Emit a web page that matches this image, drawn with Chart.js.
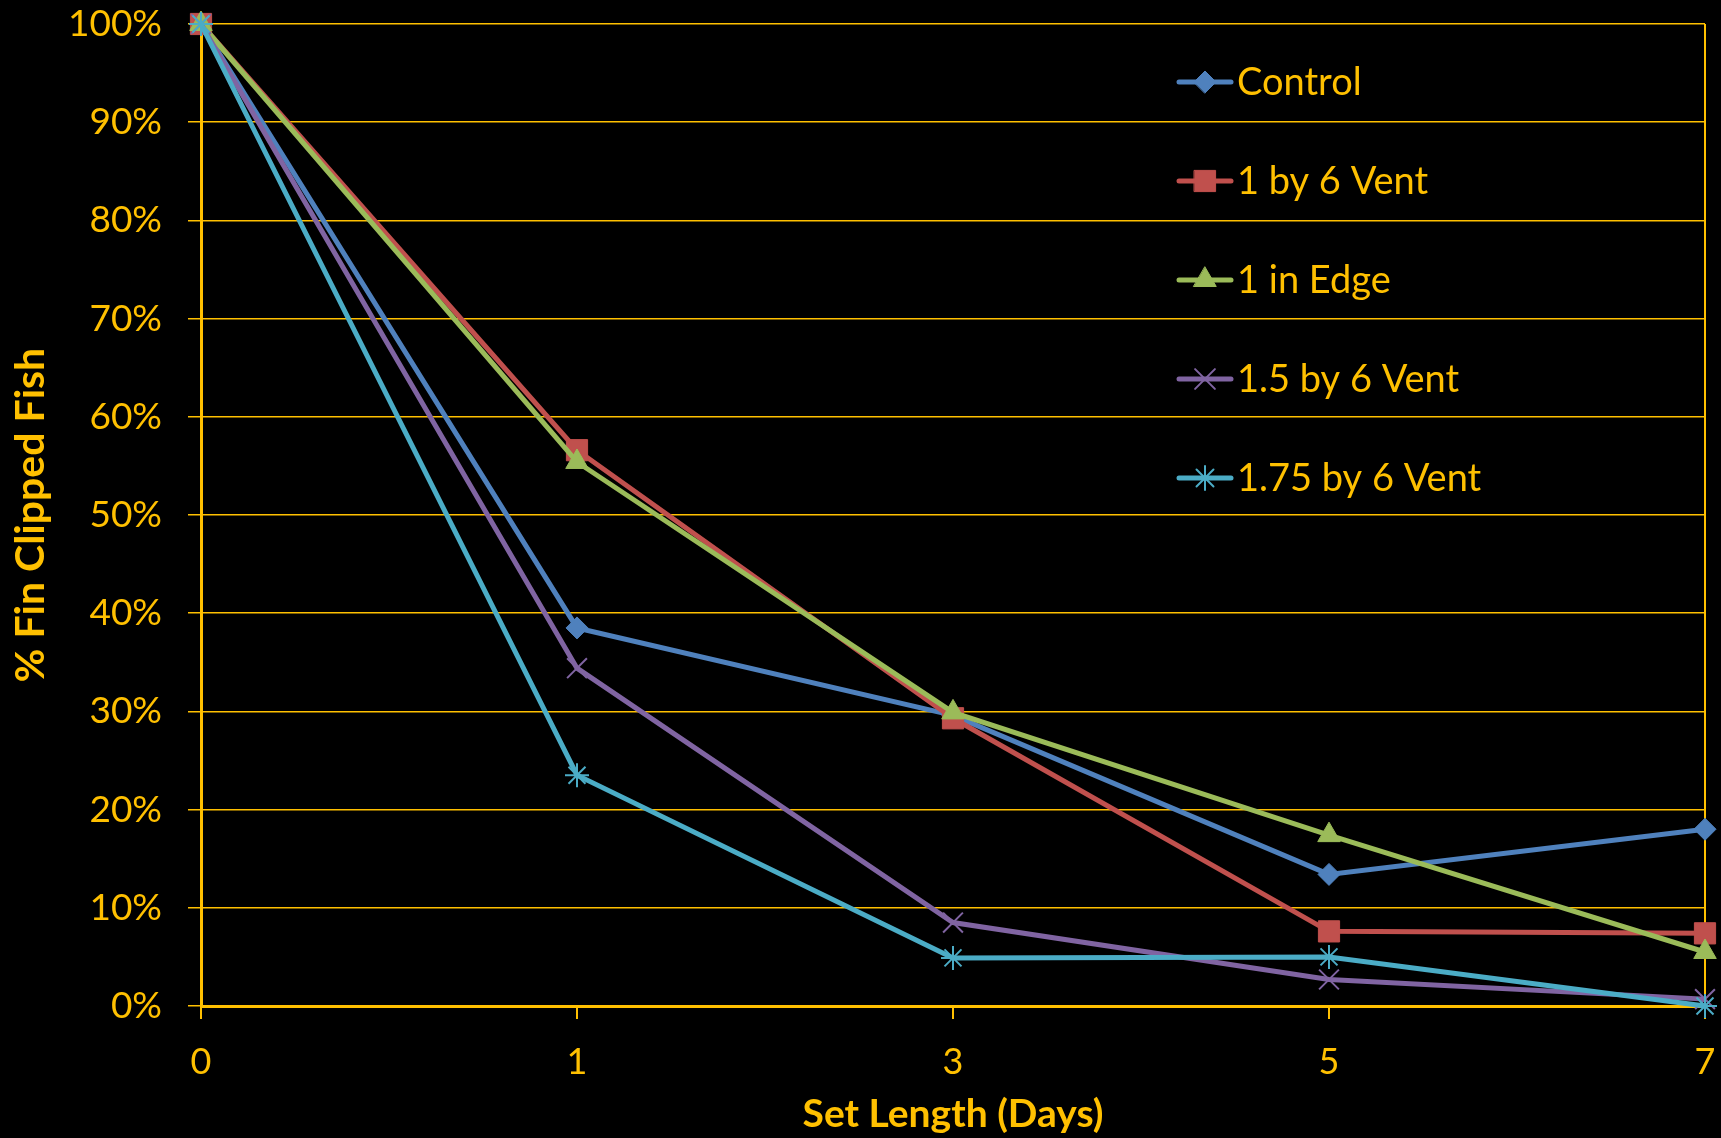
<!DOCTYPE html>
<html>
<head>
<meta charset="utf-8">
<script src="https://cdn.jsdelivr.net/npm/chart.js@4"></script>
<style>
  body { margin: 0; background: #000; }
  canvas { display: block; }
</style>
</head>
<body>
<canvas id="fins" width="1721" height="1138"></canvas>
<script>
const days = ["0", "1", "3", "5", "7"]
const control = [100, 38.5, 29.6, 13.4, 18.0]
const vent1by6 = [100, 56.6, 29.3, 7.6, 7.4]
const edge1in = [100, 55.4, 29.9, 17.4, 5.5]
const vent15by6 = [100, 34.4, 8.5, 2.7, 0.7]
const vent175by6 = [100, 23.5, 4.9, 5.0, 0.0]
const yTicks = [0, 10, 20, 30, 40, 50, 60, 70, 80, 90, 100]

const gold = "#FFC000"
const font = "Lato, 'Open Sans', sans-serif"

const series = [
  { label: "Control", data: control, color: "#4F81BD", style: "rectRot", r: 11 },
  { label: "1 by 6 Vent", data: vent1by6, color: "#C0504D", style: "rect", r: 15 },
  { label: "1 in Edge", data: edge1in, color: "#9BBB59", style: "triangle", r: 13 },
  { label: "1.5 by 6 Vent", data: vent15by6, color: "#8064A2", style: "crossRot", r: 14 },
  { label: "1.75 by 6 Vent", data: vent175by6, color: "#4BACC6", style: "star", r: 12 },
]

// legend drawn inside the plot, like the original
const insideLegend = {
  id: "insideLegend",
  afterDraw(chart) {
    const ctx = chart.ctx
    ctx.save()
    series.forEach((s, i) => {
      const y = 82 + i * 99
      ctx.strokeStyle = s.color
      ctx.lineWidth = 5
      ctx.lineCap = "round"
      ctx.beginPath()
      ctx.moveTo(1179, y)
      ctx.lineTo(1231, y)
      ctx.stroke()
      const thin = s.style === "crossRot" || s.style === "star"
      ctx.fillStyle = s.color
      ctx.strokeStyle = s.color
      ctx.lineWidth = thin ? 2 : 1
      Chart.helpers.drawPoint(ctx, { pointStyle: s.style, radius: s.r, rotation: 0, borderWidth: thin ? 2 : 1 }, 1205, y)
      ctx.fillStyle = gold
      ctx.font = "38px " + font
      ctx.textBaseline = "middle"
      ctx.textAlign = "left"
      ctx.fillText(s.label, 1237, y + 1)
    })
    ctx.restore()
  }
}

new Chart(document.getElementById("fins"), {
  type: "line",
  data: {
    labels: days,
    datasets: series.map((s, i) => ({
      label: s.label,
      data: s.data,
      borderColor: s.color,
      backgroundColor: s.color,
      borderWidth: 5,
      pointStyle: s.style,
      pointRadius: s.r,
      pointBorderWidth: (s.style === "crossRot" || s.style === "star") ? 2 : 1,
      tension: 0,
      clip: false,
      order: series.length - i,
    })),
  },
  options: {
    responsive: false,
    animation: false,
    layout: { padding: { top: 24, right: 16, left: 0, bottom: 0 } },
    plugins: {
      legend: { display: false },
      tooltip: { enabled: false },
    },
    scales: {
      x: {
        type: "category",
        offset: false,
        afterFit: (scale) => {
          scale.height = 132
          scale.paddingLeft = 0
          scale.paddingRight = 0
        },
        border: { display: true, color: gold, width: 3 },
        grid: {
          color: (c) => (c.index === days.length - 1 ? gold : "transparent"),
          tickColor: gold,
          lineWidth: 2,
          tickLength: 13,
        },
        ticks: { color: gold, font: { family: font, size: 36 }, padding: 22, maxRotation: 0 },
        title: {
          display: true,
          text: "Set Length (Days)",
          color: gold,
          font: { family: font, size: 39, weight: "bold" },
          padding: { top: 0, bottom: 0 },
        },
      },
      y: {
        min: 0,
        max: 100,
        afterFit: (scale) => {
          scale.width = 201
          scale.paddingTop = 0
          scale.paddingBottom = 0
        },
        afterBuildTicks: (scale) => { scale.ticks = yTicks.map((v) => ({ value: v })) },
        border: { display: true, color: gold, width: 3 },
        grid: { color: gold, lineWidth: 1.5, tickLength: 13 },
        ticks: {
          color: gold,
          font: { family: font, size: 37 },
          padding: 26,
          callback: (v) => v + "%",
        },
        title: {
          display: true,
          text: "% Fin Clipped Fish",
          color: gold,
          font: { family: font, size: 41, weight: "bold" },
          padding: { top: 6, bottom: 0 },
        },
      },
    },
  },
  plugins: [insideLegend],
})
</script>
</body>
</html>
